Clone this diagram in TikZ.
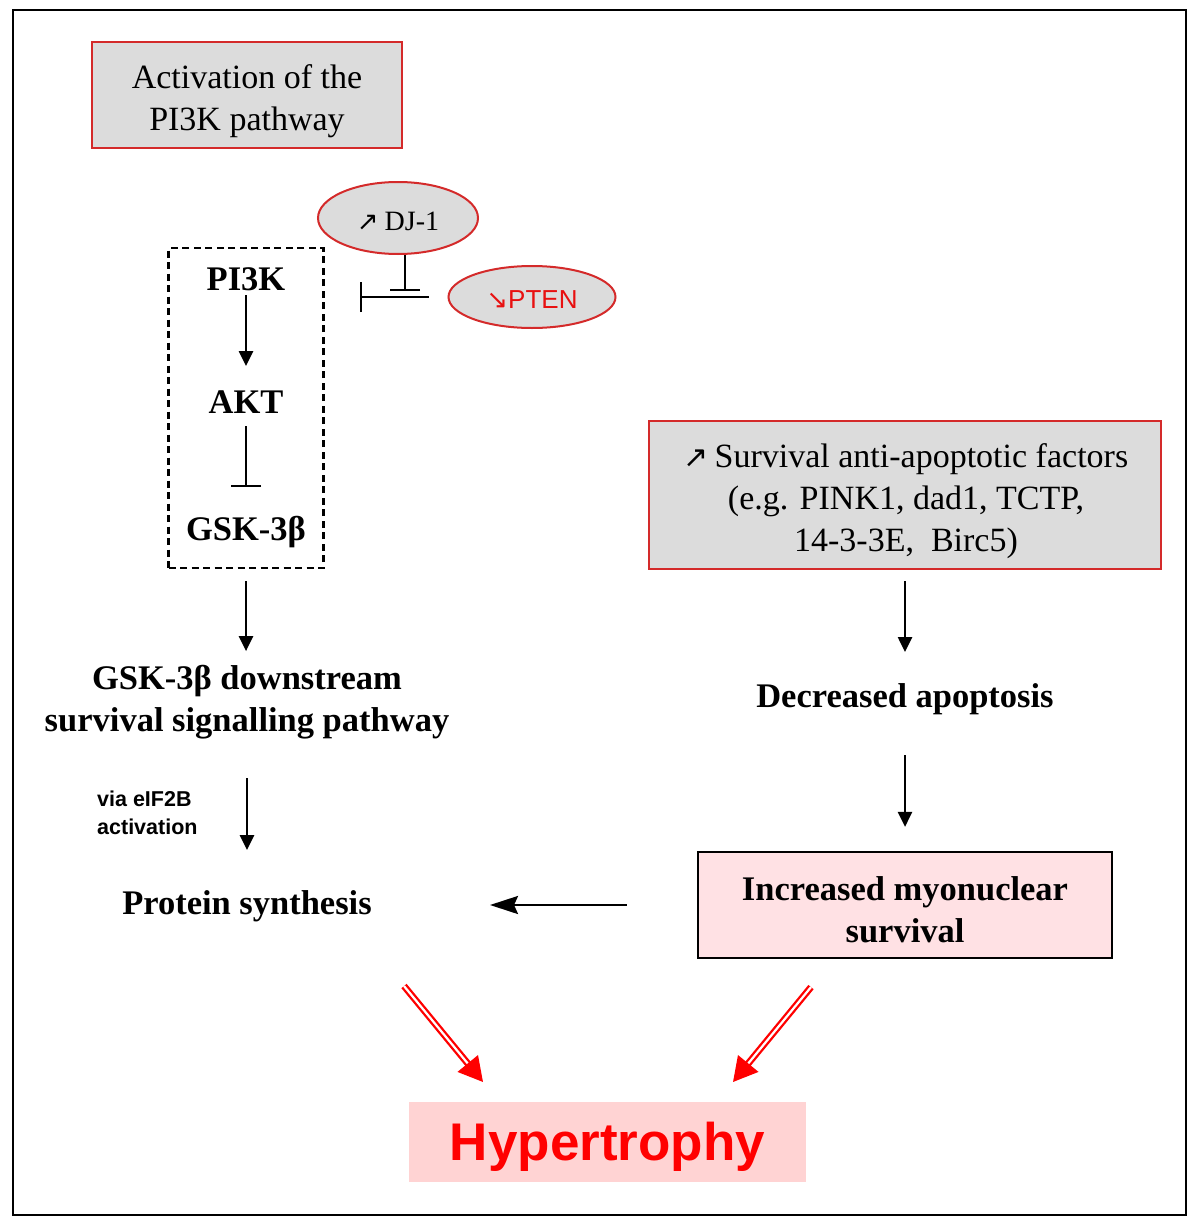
\documentclass[tikz,border=0pt]{standalone}
\usepackage{fontspec}
\setmainfont{Liberation Serif}
\setsansfont{Liberation Sans}
\newfontfamily\symf{DejaVu Sans}
\usetikzlibrary{shapes.geometric,arrows.meta,calc}
\definecolor{boxgray}{HTML}{DCDCDC}
\definecolor{boxred}{HTML}{D42A2A}
\definecolor{ptenred}{HTML}{E81010}
\definecolor{pinkA}{HTML}{FFE1E4}
\definecolor{pinkB}{HTML}{FFD3D3}
\definecolor{hyred}{HTML}{FF0000}
\begin{document}
\begin{tikzpicture}[x=1pt,y=-1pt,
  graybox/.style={draw=boxred, fill=boxgray, line width=2.2pt, inner sep=0pt},
  txt/.style={font=\fontsize{34}{42}\selectfont, align=center, inner sep=0pt},
  btxt/.style={font=\fontsize{34.5}{42}\selectfont\bfseries, align=center, inner sep=0pt},
  oval/.style={ellipse, draw=boxred, fill=boxgray, line width=2pt, inner sep=0pt},
  arr/.style={line width=2.6pt, -{Triangle[length=15pt,width=14pt]}},
  larr/.style={line width=2.6pt, -{Stealth[length=28pt,width=18pt,inset=4pt]}},
  inh/.style={line width=2.4pt, -{Bar[width=30pt,line width=2.4pt]}},
  redarr/.style={draw=hyred, line width=2.3pt, double=white, double distance=2.2pt, -{Triangle[length=24pt,width=26pt,fill=hyred]}}
]
\useasboundingbox (0,0) rectangle (1200,1228);
\draw[line width=2.2pt] (13,10) rectangle (1186,1215);

\node[graybox, minimum width=310pt, minimum height=106pt] (act) at (247,95) {};
\node[txt] (acttxt) at (247,101) {Activation of the\\PI3K pathway};

\node[oval, minimum width=160pt, minimum height=72pt] (dj) at (398,218) {};
\node[inner sep=0pt] (djtxt) at (398,221) {{\symf\fontsize{26}{26}\selectfont ↗}\hspace{6pt}{\fontsize{28}{28}\selectfont DJ-1}};
\node[oval, minimum width=167pt, minimum height=62pt] (pten) at (532,297) {};
\node[inner sep=0pt, text=ptenred] (ptentxt) at (532,300)
  {{\symf\fontsize{26}{26}\selectfont ↘}{\sffamily\fontsize{26}{26}\selectfont PTEN}};

\node[draw, dash pattern=on 7pt off 4.5pt, line width=2.3pt, minimum width=155pt, minimum height=320pt, inner sep=0pt] (pibox) at (246,408) {};
\node[btxt] (pi3k) at (246,279) {PI3K};
\node[btxt] (akt) at (246,402) {AKT};
\node[btxt] (gsk) at (246,532) {GSK-3β};

\node[btxt] (down) at (247,702) {GSK-3β downstream\\survival signalling pathway};
\node[font=\sffamily\bfseries\fontsize{21.5}{28}\selectfont, align=left, anchor=west, inner sep=0pt] (via) at (97,813) {via eIF2B\\activation};
\node[btxt] (protein) at (247,906) {Protein synthesis};

\node[graybox, minimum width=512pt, minimum height=148pt] (surv) at (905,495) {};
\node[txt] (survtxt) at (906,501)
  {{\symf\fontsize{30}{30}\selectfont ↗}\,Survival anti-apoptotic factors\\(e.g. PINK1, dad1, TCTP,\\14-3-3E,\ \ Birc5)};
\node[btxt] (dec) at (905,699) {Decreased apoptosis};
\node[draw=black, fill=pinkA, line width=2.2pt, minimum width=414pt, minimum height=106pt, inner sep=0pt] (myo) at (905,905) {};
\node[btxt] (myotxt) at (905,910) {Increased myonuclear\\survival};

\node[fill=pinkB, minimum width=397pt, minimum height=80pt, inner sep=0pt] (hyp) at (607.5,1142) {};
\node[inner sep=0pt, text=hyred, font=\sffamily\bfseries\fontsize{53}{53}\selectfont] (hyptxt) at (607.5,1147) {Hypertrophy};

% connectors
\draw[inh] ([xshift=7pt]dj.south) -- ([xshift=7pt,yshift=-36pt]dj.south);
\draw[inh] ([xshift=-19pt]pten.west) -- ([xshift=35pt]pibox.east |- pten.west);
\draw[arr] ([yshift=-16pt]pi3k.center) -- ([yshift=36pt]akt.center);
\draw[inh] ([yshift=-24pt]akt.center) -- ([yshift=45pt]gsk.center);
\draw[arr] ([yshift=-12pt]pibox.south) -- ([yshift=-82pt]pibox.south);
\draw[arr] ([yshift=-76pt]down.center) -- ([yshift=56pt]protein.center);
\draw[arr] ([yshift=-11pt]surv.south) -- ([yshift=47pt]dec.center);
\draw[arr] ([yshift=-56pt]dec.center) -- ([yshift=24pt]myo.north);
\draw[larr] ([xshift=-70pt]myo.west) -- ([xshift=243pt]protein.center |- myo.west);
\draw[redarr] ([xshift=157pt,yshift=-80pt]protein.center) -- ([xshift=-124.5pt,yshift=60pt]hyp.center);
\draw[redarr] ([xshift=-94pt,yshift=-28pt]myo.south) -- ([xshift=125.5pt,yshift=60pt]hyp.center);
\end{tikzpicture}
\end{document}
